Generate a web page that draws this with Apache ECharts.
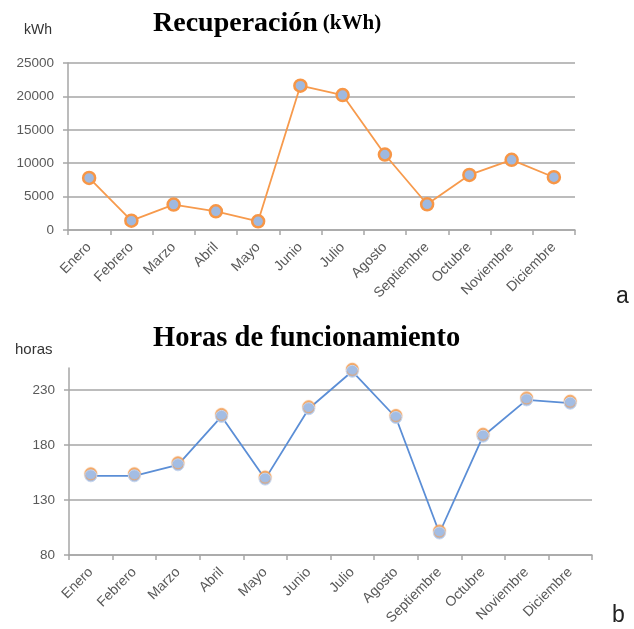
<!DOCTYPE html>
<html>
<head>
<meta charset="utf-8">
<script src="https://cdn.jsdelivr.net/npm/echarts@6/dist/echarts.min.js"></script>
<style>
  html, body { margin: 0; padding: 0; background: #fff; }
  #chart { width: 634px; height: 629px; }
</style>
</head>
<body>
<div id="chart"></div>
<script>
// Monthly categories shared by both panels
const months = ['Enero', 'Febrero', 'Marzo', 'Abril', 'Mayo', 'Junio', 'Julio',
  'Agosto', 'Septiembre', 'Octubre', 'Noviembre', 'Diciembre'];

// Panel a: energy recovered per month (kWh)
const recuperacion = [7800, 1400, 3800, 2800, 1300, 21600, 20200, 11300, 3850, 8250, 10500, 7900];

// Panel b: operating hours per month
const horas = [152, 152, 162, 206, 149, 213, 247, 205, 100, 188, 221, 218];

// Axis settings
const kwhTicks = { min: 0, max: 25000, interval: 5000 };
const horasTicks = { min: 80, max: 250, interval: 50 };

const sans = '"Liberation Sans", Arial, sans-serif';
const serif = '"Liberation Serif", "Times New Roman", serif';
const gridGray = '#a6a6a6';
const labelGray = '#595959';

function xAxisFor(gridIndex) {
  return {
    type: 'category',
    gridIndex: gridIndex,
    data: months,
    boundaryGap: true,
    axisLine: { lineStyle: { color: gridGray, width: 1.5 } },
    axisTick: { show: true, length: 5, lineStyle: { color: gridGray, width: 1.5 } },
    axisLabel: { rotate: 45, margin: 15, color: labelGray, fontFamily: sans, fontSize: 14, interval: 0 },
    splitLine: { show: false }
  };
}

function yAxisFor(gridIndex, ticks) {
  return {
    type: 'value',
    gridIndex: gridIndex,
    min: ticks.min,
    max: ticks.max,
    interval: ticks.interval,
    axisLine: { show: true, lineStyle: { color: gridGray, width: 1.5 } },
    axisTick: { show: true, length: 5, lineStyle: { color: gridGray, width: 1.5 } },
    axisLabel: {
      margin: 14, color: labelGray, fontFamily: sans, fontSize: 13.5,
      showMaxLabel: gridIndex === 0,
      formatter: (v) => String(v)
    },
    splitLine: { show: true, showMaxLine: gridIndex === 0, lineStyle: { color: gridGray, width: 1.5 } }
  };
}

const chart = echarts.init(document.getElementById('chart'), null, { renderer: 'canvas' });

chart.setOption({
  backgroundColor: '#ffffff',
  animation: false,
  title: [
    {
      text: '{a|Recuperación} {b|(kWh)}',
      left: 148,
      top: 5,
      textStyle: {
        rich: {
          a: { fontFamily: serif, fontWeight: 'bold', fontSize: 28, color: '#000' },
          b: { fontFamily: serif, fontWeight: 'bold', fontSize: 21, color: '#000' }
        }
      }
    },
    {
      text: 'Horas de funcionamiento',
      left: 148,
      top: 319,
      textStyle: { fontFamily: serif, fontWeight: 'bold', fontSize: 28.5, color: '#000' }
    }
  ],
  graphic: [
    { type: 'text', left: 24, top: 23, style: { text: 'kWh', fontFamily: sans, fontSize: 14, fill: '#333' } },
    { type: 'text', left: 15, top: 342, style: { text: 'horas', fontFamily: sans, fontSize: 15, fill: '#333' } },
    { type: 'text', left: 616, top: 285, style: { text: 'a', fontFamily: sans, fontSize: 23, fill: '#222' } },
    { type: 'text', left: 612, top: 604, style: { text: 'b', fontFamily: sans, fontSize: 23, fill: '#222' } }
  ],
  grid: [
    { left: 68, top: 63, width: 507, height: 167 },
    { left: 69, top: 368, width: 523, height: 187 }
  ],
  xAxis: [xAxisFor(0), xAxisFor(1)],
  yAxis: [yAxisFor(0, kwhTicks), yAxisFor(1, horasTicks)],
  series: [
    {
      name: 'Recuperación',
      type: 'line',
      xAxisIndex: 0,
      yAxisIndex: 0,
      data: recuperacion,
      symbol: 'circle',
      symbolSize: 12,
      lineStyle: { color: '#f79a4c', width: 1.8 },
      itemStyle: { color: '#9fb9e0', borderColor: '#f79646', borderWidth: 2.5 }
    },
    {
      name: 'Horas',
      type: 'line',
      xAxisIndex: 1,
      yAxisIndex: 1,
      data: horas,
      symbol: 'circle',
      symbolSize: 12,
      lineStyle: { color: '#5b8ed6', width: 1.8 },
      itemStyle: {
        color: '#a3bde4',
        borderColor: '#c6d6ef',
        borderWidth: 1,
        shadowColor: '#f3a25c',
        shadowBlur: 1,
        shadowOffsetX: 0,
        shadowOffsetY: -2
      }
    }
  ]
});
</script>
</body>
</html>
